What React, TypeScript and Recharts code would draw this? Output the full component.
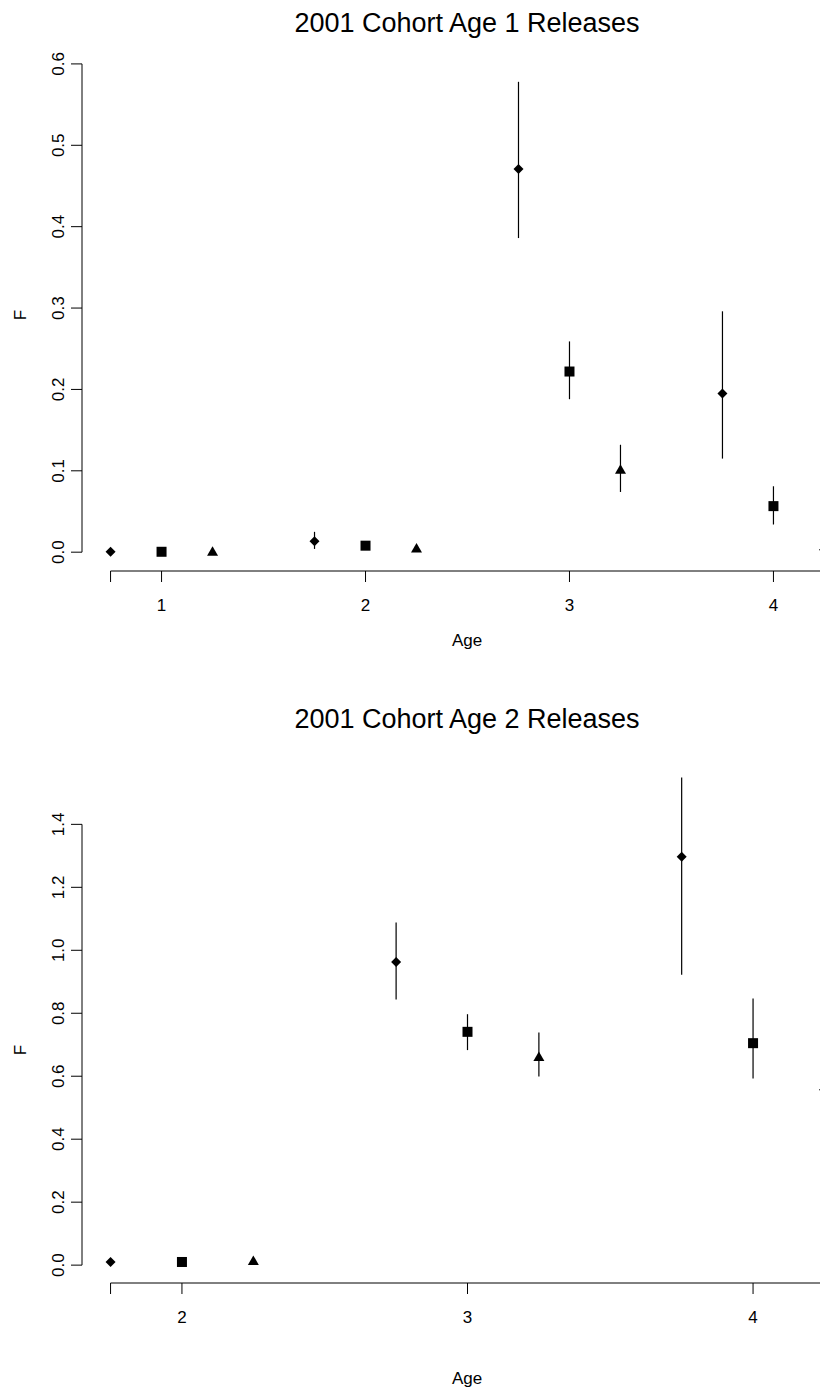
import * as React from 'react';
import { ComposedChart, Scatter, ErrorBar, XAxis, YAxis, ReferenceLine } from 'recharts';

// ---- 2001 cohort, age 1 releases ----
const a1DiamondAge = [0.75, 1.75, 2.75, 3.75];
const a1DiamondF = [0.0005, 0.0135, 0.471, 0.195];
const a1DiamondLo = [0.0, 0.004, 0.386, 0.115];
const a1DiamondHi = [0.001, 0.025, 0.578, 0.296];

const a1SquareAge = [1, 2, 3, 4];
const a1SquareF = [0.0005, 0.008, 0.222, 0.0566];
const a1SquareLo = [0.0, 0.005, 0.188, 0.034];
const a1SquareHi = [0.001, 0.011, 0.259, 0.081];

const a1TriangleAge = [1.25, 2.25, 3.25, 4.25];
const a1TriangleF = [0.001, 0.005, 0.102, 0.008];
const a1TriangleLo = [0.0, 0.003, 0.074, 0.004];
const a1TriangleHi = [0.002, 0.007, 0.132, 0.012];

const a1XTicks = [0.75, 1, 2, 3, 4, 4.25];
const a1YTicks = [0, 0.1, 0.2, 0.3, 0.4, 0.5, 0.6];

// ---- 2001 cohort, age 2 releases ----
const a2DiamondAge = [1.75, 2.75, 3.75];
const a2DiamondF = [0.01, 0.963, 1.297];
const a2DiamondLo = [0.005, 0.844, 0.922];
const a2DiamondHi = [0.015, 1.088, 1.549];

const a2SquareAge = [2, 3, 4];
const a2SquareF = [0.01, 0.741, 0.705];
const a2SquareLo = [0.005, 0.683, 0.593];
const a2SquareHi = [0.015, 0.797, 0.847];

const a2TriangleAge = [2.25, 3.25, 4.25];
const a2TriangleF = [0.015, 0.663, 0.57];
const a2TriangleLo = [0.01, 0.599, 0.5];
const a2TriangleHi = [0.02, 0.739, 0.64];

const a2XTicks = [1.75, 2, 3, 4, 4.25];
const a2YTicks = [0, 0.2, 0.4, 0.6, 0.8, 1.0, 1.2, 1.4];

const FONT = '"Liberation Sans", Arial, Helvetica, sans-serif';

type Shape = 'diamond' | 'square' | 'triangle';
type Group = { age: number[]; f: number[]; lo: number[]; hi: number[]; shape: Shape };

const toRows = (g: Group) =>
  g.age.map((a, i) => ({ x: a, y: g.f[i], err: [g.f[i] - g.lo[i], g.hi[i] - g.f[i]] }));

const Mark = (props: any) => {
  const { cx, cy, kind } = props;
  if (cx == null || cy == null) return null;
  if (kind === 'square') return <rect x={cx - 5} y={cy - 5} width={10} height={10} fill="#000" />;
  if (kind === 'triangle')
    return <polygon points={`${cx},${cy - 5} ${cx + 5.5},${cy + 4.5} ${cx - 5.5},${cy + 4.5}`} fill="#000" />;
  return <polygon points={`${cx},${cy - 5} ${cx + 5},${cy} ${cx},${cy + 5} ${cx - 5},${cy}`} fill="#000" />;
};

// R style 4% axis extension
const pad = (lo: number, hi: number): [number, number] => {
  const d = (hi - lo) * 0.04;
  return [lo - d, hi + d];
};

type PanelProps = {
  groups: Group[];
  xTicks: number[];
  yTicks: number[];
  height: number;
  plotTop: number;
  plotBottom: number;
  top: number;
};

const CHART_W = 900;
const PLOT_LEFT = 82;
const PLOT_RIGHT = 853;

function Panel({ groups, xTicks, yTicks, height, plotTop, plotBottom, top }: PanelProps) {
  const allX = groups.flatMap(g => g.age);
  const allY = groups.flatMap(g => [...g.lo, ...g.hi]);
  const xDom = pad(Math.min(...allX), Math.max(...allX));
  const yDom = pad(Math.min(...allY), Math.max(...allY));

  const xTick = (p: any) => {
    const v = p.payload.value;
    if (!Number.isInteger(v)) return <g />;
    return (
      <text x={p.x} y={p.y + 29} textAnchor="middle" fontSize={17} fontFamily={FONT} fill="#000">
        {v}
      </text>
    );
  };

  const yTick = (p: any) => {
    const tx = p.x - 7;
    return (
      <text
        x={tx}
        y={p.y}
        transform={`rotate(-90 ${tx} ${p.y})`}
        textAnchor="middle"
        fontSize={17}
        fontFamily={FONT}
        fill="#000"
      >
        {p.payload.value.toFixed(1)}
      </text>
    );
  };

  return (
    <div style={{ position: 'absolute', left: 0, top }}>
      <ComposedChart
        width={CHART_W}
        height={height}
        margin={{ top: plotTop, right: CHART_W - PLOT_RIGHT, bottom: 0, left: 0 }}
      >
        <XAxis
          type="number"
          dataKey="x"
          domain={xDom}
          ticks={xTicks}
          interval={0}
          allowDataOverflow
          axisLine={false}
          tickLine={{ stroke: '#000', strokeWidth: 1 }}
          tickSize={11}
          tickMargin={0}
          height={height - plotBottom}
          tick={xTick}
        />
        <YAxis
          type="number"
          dataKey="y"
          domain={yDom}
          ticks={yTicks}
          interval={0}
          allowDataOverflow
          axisLine={false}
          tickLine={{ stroke: '#000', strokeWidth: 1 }}
          tickSize={11}
          tickMargin={0}
          width={PLOT_LEFT}
          tick={yTick}
        />
        <ReferenceLine
          segment={[{ x: xTicks[0], y: yDom[0] }, { x: xTicks[xTicks.length - 1], y: yDom[0] }]}
          stroke="#000"
          strokeWidth={1}
          ifOverflow="visible"
        />
        <ReferenceLine
          segment={[{ x: xDom[0], y: yTicks[0] }, { x: xDom[0], y: yTicks[yTicks.length - 1] }]}
          stroke="#000"
          strokeWidth={1}
          ifOverflow="visible"
        />
        {groups.map(g => (
          <Scatter
            key={g.shape}
            data={toRows(g)}
            dataKey="y"
            isAnimationActive={false}
            shape={(p: any) => <Mark {...p} kind={g.shape} />}
          >
            <ErrorBar dataKey="err" direction="y" width={0} stroke="#000" strokeWidth={1.2} />
          </Scatter>
        ))}
      </ComposedChart>
    </div>
  );
}

const age1Groups: Group[] = [
  { age: a1DiamondAge, f: a1DiamondF, lo: a1DiamondLo, hi: a1DiamondHi, shape: 'diamond' },
  { age: a1SquareAge, f: a1SquareF, lo: a1SquareLo, hi: a1SquareHi, shape: 'square' },
  { age: a1TriangleAge, f: a1TriangleF, lo: a1TriangleLo, hi: a1TriangleHi, shape: 'triangle' }
];

const age2Groups: Group[] = [
  { age: a2DiamondAge, f: a2DiamondF, lo: a2DiamondLo, hi: a2DiamondHi, shape: 'diamond' },
  { age: a2SquareAge, f: a2SquareF, lo: a2SquareLo, hi: a2SquareHi, shape: 'square' },
  { age: a2TriangleAge, f: a2TriangleF, lo: a2TriangleLo, hi: a2TriangleHi, shape: 'triangle' }
];

export default function App() {
  const labelStyle = { fontFamily: FONT, fill: '#000' };
  return (
    <div
      style={{
        position: 'fixed',
        left: 0,
        top: 0,
        width: 820,
        height: 1391,
        overflow: 'hidden',
        background: '#fff'
      }}
    >
      <Panel
        groups={age1Groups}
        xTicks={a1XTicks}
        yTicks={a1YTicks}
        height={696}
        plotTop={63}
        plotBottom={571}
        top={0}
      />
      <Panel
        groups={age2Groups}
        xTicks={a2XTicks}
        yTicks={a2YTicks}
        height={695}
        plotTop={62}
        plotBottom={587}
        top={696}
      />
      <svg
        width={820}
        height={1391}
        style={{ position: 'absolute', left: 0, top: 0, pointerEvents: 'none' }}
      >
        <text x={467} y={32} textAnchor="middle" fontSize={27} {...labelStyle}>
          2001 Cohort Age 1 Releases
        </text>
        <text x={26} y={315} textAnchor="middle" fontSize={17} transform="rotate(-90 26 315)" {...labelStyle}>
          F
        </text>
        <text x={467} y={646} textAnchor="middle" fontSize={17} {...labelStyle}>
          Age
        </text>
        <text x={467} y={728} textAnchor="middle" fontSize={27} {...labelStyle}>
          2001 Cohort Age 2 Releases
        </text>
        <text x={26} y={1050} textAnchor="middle" fontSize={17} transform="rotate(-90 26 1050)" {...labelStyle}>
          F
        </text>
        <text x={467} y={1384} textAnchor="middle" fontSize={17} {...labelStyle}>
          Age
        </text>
      </svg>
    </div>
  );
}
